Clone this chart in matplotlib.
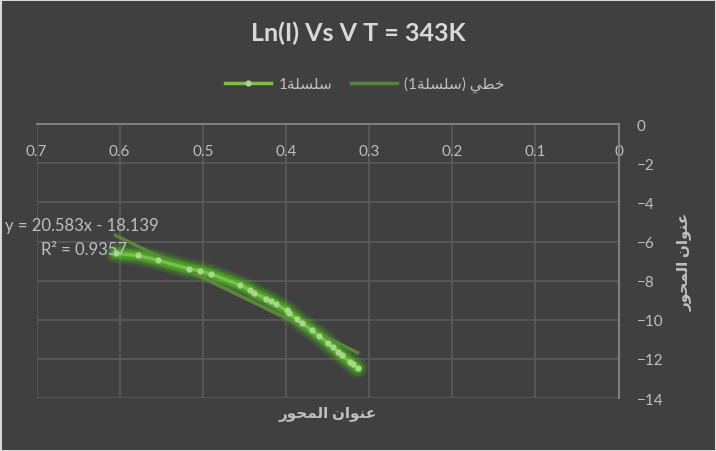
import matplotlib
matplotlib.use("Agg")
import matplotlib.pyplot as plt
import numpy as np

plt.rcParams['font.family'] = ['Lato', 'DejaVu Sans']

# data
voltage = [0.605, 0.578, 0.554, 0.517, 0.504, 0.490, 0.455, 0.443, 0.438, 0.424,
           0.418, 0.412, 0.399, 0.396, 0.387, 0.381, 0.369, 0.360, 0.350, 0.344,
           0.337, 0.333, 0.323, 0.320, 0.314]
ln_current = [-6.60, -6.71, -6.95, -7.39, -7.49, -7.66, -8.23, -8.46, -8.64, -8.91,
              -9.06, -9.20, -9.52, -9.66, -9.96, -10.17, -10.53, -10.82, -11.16, -11.41,
              -11.64, -11.81, -12.15, -12.27, -12.47]
slope = 20.583
intercept = -18.139
r_squared = 0.9357

series_name = "سلسلة1"
trend_name = "خطي (سلسلة1)"
axis_title = "عنوان المحور"

# matplotlib has no arabic shaping / bidi, so do a tiny version by hand
FORMS = {
    "س": (0xFEB1, 0xFEB2, 0xFEB3, 0xFEB4), "ل": (0xFEDD, 0xFEDE, 0xFEDF, 0xFEE0),
    "ع": (0xFEC9, 0xFECA, 0xFECB, 0xFECC), "ن": (0xFEE5, 0xFEE6, 0xFEE7, 0xFEE8),
    "م": (0xFEE1, 0xFEE2, 0xFEE3, 0xFEE4), "ح": (0xFEA1, 0xFEA2, 0xFEA3, 0xFEA4),
    "خ": (0xFEA5, 0xFEA6, 0xFEA7, 0xFEA8), "ط": (0xFEC1, 0xFEC2, 0xFEC3, 0xFEC4),
    "ي": (0xFEF1, 0xFEF2, 0xFEF3, 0xFEF4),
    "ة": (0xFE93, 0xFE94), "و": (0xFEED, 0xFEEE), "ا": (0xFE8D, 0xFE8E), "ر": (0xFEAD, 0xFEAE),
}
MIRROR = {"(": ")", ")": "("}


def shape(s):
    out = []
    for i, c in enumerate(s):
        if c not in FORMS:
            out.append(c)
            continue
        prev = s[i - 1] if i > 0 else ""
        nxt = s[i + 1] if i + 1 < len(s) else ""
        jp = prev in FORMS and len(FORMS[prev]) == 4
        jn = len(FORMS[c]) == 4 and nxt in FORMS
        idx = 3 if (jp and jn) else 1 if jp else 2 if jn else 0
        out.append(chr(FORMS[c][idx]))
    return "".join(out)


def rtl(s):
    s = shape(s)
    runs, cur = [], ""
    for c in s:
        if cur and (c.isdigit() != cur[-1].isdigit()):
            runs.append(cur)
            cur = ""
        cur += c
    runs.append(cur)
    vis = []
    for r in reversed(runs):
        if r[0].isdigit():
            vis.append(r)
        else:
            vis.append("".join(MIRROR.get(c, c) for c in reversed(r)))
    return "".join(vis)


bg = "#404040"
txt = "#bfbfbf"
grid = "#595959"

fig = plt.figure(figsize=(7.16, 4.52), dpi=100, facecolor=bg)
fig.patch.set_edgecolor("#d9d9d9")
fig.patch.set_linewidth(2)
ax = fig.add_axes([0.051, 0.117, 0.813, 0.606])
ax.set_facecolor(bg)

x = np.array(voltage)
y = np.array(ln_current)

# glow around the series line
for w, a in [(15, 0.10), (12, 0.15), (9, 0.24), (6.5, 0.40)]:
    ax.plot(x, y, color="#52d41a", lw=w, alpha=a, solid_capstyle="round",
            solid_joinstyle="round", zorder=3)

tx = np.array([x.min(), x.max()])
trend, = ax.plot(tx, slope * tx + intercept, color="#5b8d3b", lw=2.5, alpha=0.9, zorder=4)
series, = ax.plot(x, y, color="#79c04a", lw=2.5, marker="o", markersize=4.5,
                  markerfacecolor="#a9d68a", markeredgewidth=0, zorder=5)

ax.set_xlim(0.7, 0)
ax.set_ylim(-14, 0)
ax.set_xticks(np.arange(0, 0.71, 0.1))
ax.set_xticklabels(["0", "0.1", "0.2", "0.3", "0.4", "0.5", "0.6", "0.7"])
ax.set_yticks(np.arange(-14, 1, 2))

ax.grid(True, color=grid, lw=1.3)
ax.set_axisbelow(True)
for s in ["left", "bottom"]:
    ax.spines[s].set_visible(False)
for s in ["top", "right"]:
    ax.spines[s].set_color("#7f7f7f")
    ax.spines[s].set_linewidth(1.5)

ax.xaxis.set_ticks_position("top")
ax.yaxis.set_ticks_position("right")
ax.tick_params(axis="x", length=0, pad=-24, labelsize=11, labelcolor=txt)
ax.tick_params(axis="y", length=0, pad=13, labelsize=11, labelcolor=txt)

ax.text(0.7375, -5.15, f"y = {slope}x - {abs(intercept)}", color=txt, fontsize=12,
        ha="left", va="center", clip_on=False, zorder=6)
ax.text(0.695, -6.4, f"R² = {r_squared}", color=txt, fontsize=12,
        ha="left", va="center", clip_on=False, zorder=6)

ax.set_xlabel(rtl(axis_title), color=txt, fontsize=11, fontweight="bold", labelpad=6)
ax.yaxis.set_label_position("right")
ax.set_ylabel(rtl(axis_title), color=txt, fontsize=11, fontweight="bold",
              rotation=90, labelpad=10)

fig.suptitle("Ln(I) Vs V T = 343K", color="#d9d9d9", fontsize=18, fontweight="bold", y=0.952)

fig.legend([series, trend], [rtl(series_name), rtl(trend_name)], loc="center", ncol=2,
           bbox_to_anchor=(0.51, 0.812), frameon=False, labelcolor=txt, fontsize=11,
           handlelength=3, columnspacing=1.2, handletextpad=0.5)

fig.savefig("out.png", dpi=100, facecolor=bg, edgecolor=fig.patch.get_edgecolor())
